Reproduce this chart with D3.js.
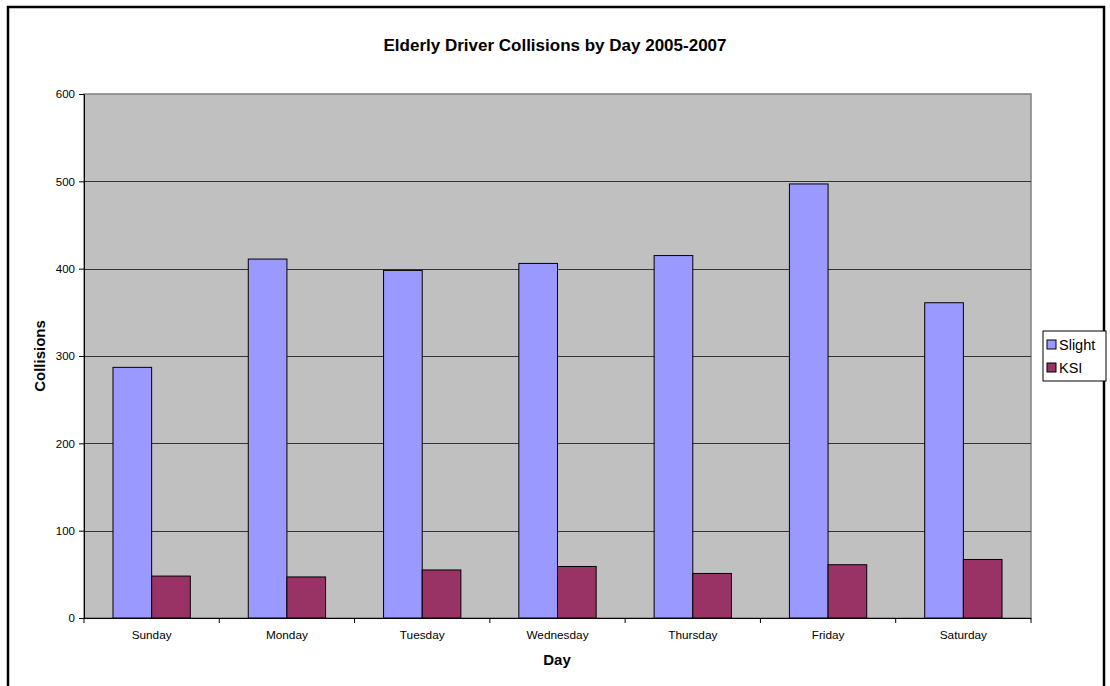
<!DOCTYPE html>
<html>
<head>
<meta charset="utf-8">
<script src="https://cdn.jsdelivr.net/npm/d3@7"></script>
<style>
  html, body { margin: 0; padding: 0; background: #fff; }
  svg { display: block; font-family: "Liberation Sans", Arial, sans-serif; }
</style>
</head>
<body>
<svg id="chart" width="1110" height="686"></svg>
<script>
// Collisions involving elderly drivers, by day of week, 2005-2007
const days = ["Sunday", "Monday", "Tuesday", "Wednesday", "Thursday", "Friday", "Saturday"];
const slight = [287, 411, 398, 406, 415, 497, 361];
const ksi = [48, 47, 55, 59, 51, 61, 67];
const seriesNames = ["Slight", "KSI"];
const seriesColors = ["#9999FF", "#993366"];
const yTicks = [0, 100, 200, 300, 400, 500, 600];

const svg = d3.select("#chart");

// chart frame
svg.append("rect")
  .attr("x", 8).attr("y", 7)
  .attr("width", 1096).attr("height", 700)
  .attr("fill", "#fff").attr("stroke", "#000").attr("stroke-width", 2.5);

const plot = { left: 84, right: 1031, top: 94, bottom: 618 };

const x = d3.scaleBand().domain(days).range([plot.left, plot.right]).paddingInner(0).paddingOuter(0);
const y = d3.scaleLinear().domain([0, 600]).range([plot.bottom, plot.top]);

// each category: gap (1.5 bar widths) split on both sides of two bars
const barW = x.bandwidth() / 3.5;
const offset = barW * 0.75;

// plot background
svg.append("rect")
  .attr("x", plot.left).attr("y", plot.top)
  .attr("width", plot.right - plot.left).attr("height", plot.bottom - plot.top)
  .attr("fill", "#C0C0C0").attr("stroke", "#808080").attr("stroke-width", 1.5);

// horizontal gridlines
svg.append("g")
  .selectAll("line")
  .data(yTicks.filter(d => d > 0 && d < 600))
  .join("line")
  .attr("x1", plot.left).attr("x2", plot.right)
  .attr("y1", d => Math.round(y(d)) + 0.5).attr("y2", d => Math.round(y(d)) + 0.5)
  .attr("stroke", "#333").attr("stroke-width", 1);

// bars
const groups = svg.append("g")
  .selectAll("g")
  .data(days)
  .join("g")
  .attr("transform", d => `translate(${x(d)},0)`);

[slight, ksi].forEach((vals, si) => {
  groups.append("rect")
    .attr("x", (d, i) => offset + si * barW)
    .attr("y", (d, i) => y(vals[i]))
    .attr("width", barW)
    .attr("height", (d, i) => y(0) - y(vals[i]))
    .attr("fill", seriesColors[si])
    .attr("stroke", "#000").attr("stroke-width", 1);
});

// y axis
const yAxis = svg.append("g")
  .attr("transform", `translate(${plot.left},0)`)
  .call(d3.axisLeft(y).tickValues(yTicks).tickSize(5).tickSizeOuter(0).tickPadding(4));
yAxis.select(".domain").attr("stroke", "#000");
yAxis.selectAll(".tick line").attr("stroke", "#000");
yAxis.selectAll("text").attr("font-size", 11.5).attr("fill", "#000")
  .attr("font-family", "'Liberation Sans', Arial, sans-serif");

// x axis with ticks on category boundaries
const xAxis = svg.append("g")
  .attr("transform", `translate(0,${plot.bottom})`);
xAxis.append("line")
  .attr("x1", plot.left).attr("x2", plot.right)
  .attr("y1", 0.5).attr("y2", 0.5).attr("stroke", "#000");
const bounds = days.map(d => x(d)).concat([plot.right]);
xAxis.selectAll(".bt")
  .data(bounds)
  .join("line")
  .attr("class", "bt")
  .attr("x1", d => d).attr("x2", d => d)
  .attr("y1", 0).attr("y2", 5).attr("stroke", "#000");
xAxis.selectAll("text")
  .data(days)
  .join("text")
  .attr("x", d => x(d) + x.bandwidth() / 2)
  .attr("y", 21)
  .attr("text-anchor", "middle")
  .attr("font-size", 11.8)
  .text(d => d);

// titles
svg.append("text")
  .attr("x", 555).attr("y", 51)
  .attr("text-anchor", "middle")
  .attr("font-size", 17).attr("font-weight", "bold")
  .text("Elderly Driver Collisions by Day 2005-2007");

svg.append("text")
  .attr("x", 557).attr("y", 665)
  .attr("text-anchor", "middle")
  .attr("font-size", 15).attr("font-weight", "bold")
  .text("Day");

svg.append("text")
  .attr("transform", "translate(45,356) rotate(-90)")
  .attr("text-anchor", "middle")
  .attr("font-size", 15).attr("font-weight", "bold")
  .text("Collisions");

// legend
const legend = svg.append("g");
legend.append("rect")
  .attr("x", 1043).attr("y", 331)
  .attr("width", 63).attr("height", 50)
  .attr("fill", "#fff").attr("stroke", "#000").attr("stroke-width", 1);
const items = legend.selectAll("g.item")
  .data(seriesNames)
  .join("g")
  .attr("class", "item")
  .attr("transform", (d, i) => `translate(1047,${340 + i * 23})`);
items.append("rect")
  .attr("width", 9).attr("height", 9)
  .attr("fill", (d, i) => seriesColors[i])
  .attr("stroke", "#000").attr("stroke-width", 1);
items.append("text")
  .attr("x", 12).attr("y", 10)
  .attr("font-size", 14.5)
  .text(d => d);
</script>
</body>
</html>
